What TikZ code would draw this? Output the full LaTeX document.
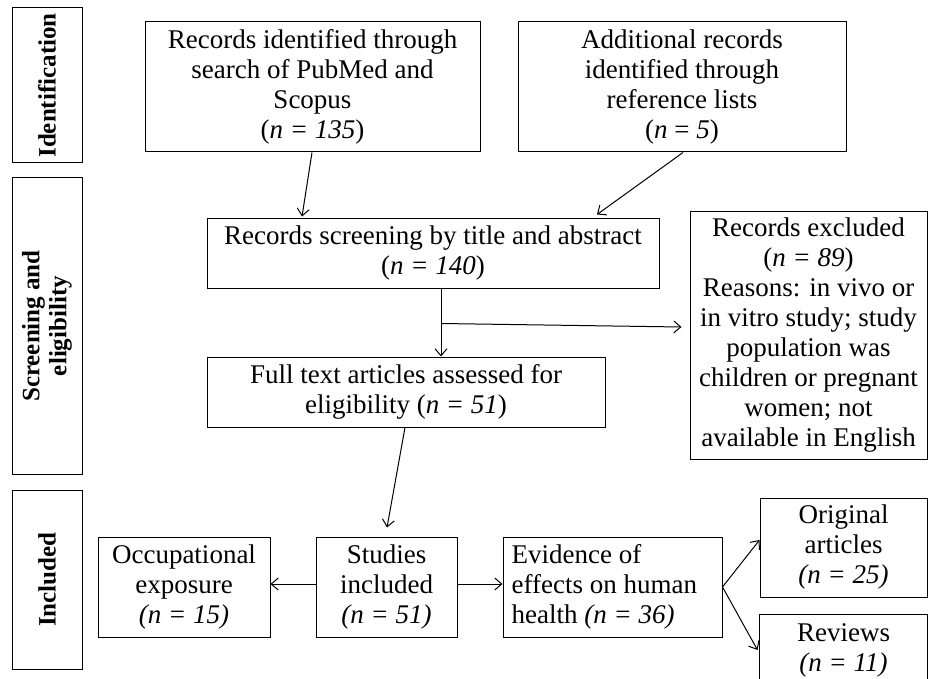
\documentclass[tikz,border=0pt]{standalone}
\usepackage{fontspec}
\setmainfont{Liberation Serif}
\usetikzlibrary{arrows.meta,calc}
\newcommand\myfs{\fontsize{27}{30}\selectfont}
\newcommand\labfs{\fontsize{25}{27}\selectfont}
\begin{document}
\begin{tikzpicture}[x=1pt,y=-1pt,
  box/.style={draw, line width=1pt, align=center, inner sep=0pt, font=\myfs},
  lab/.style={draw, line width=1pt, inner sep=0pt, minimum width=70},
  labtext/.style={rotate=90, align=center, font=\bfseries\labfs},
  arr/.style={line width=1pt, -{Straight Barb[length=7,width=12]}},
  ln/.style={line width=1pt}]
\useasboundingbox (0,0) rectangle (928,679);
\clip (0,0) rectangle (928,679);
% side labels
\node[lab, minimum height=155] (L1) at (47,85.5) {};
\node[labtext] (L1t) at (L1) {Identification};
\node[lab, minimum height=296] (L2) at (47,326) {};
\node[labtext] (L2t) at (L2) {Screening and\\eligibility};
\node[lab, minimum height=179] (L3) at (47,579.5) {};
\node[labtext] (L3t) at (L3) {Included};
% main boxes
\node[box, minimum width=335, minimum height=130] (A) at (312.5,87)
  {Records identified through\\search of PubMed and\\Scopus\\(\textit{n = 135})};
\node[box, minimum width=328, minimum height=130] (B) at (682,87)
  {Additional records\\identified through\\reference lists\\(\textit{n} = \textit{5})};
\node[box, minimum width=452, minimum height=70] (C) at (433,253)
  {Records screening by title and abstract\\(\textit{n = 140})};
\node[box, minimum width=237, minimum height=248] (D) at (808.5,335)
  {Records excluded\\(\textit{n = 89})\\Reasons: in vivo or\\in vitro study; study\\population was\\children or pregnant\\women; not\\available in English};
\node[box, minimum width=398, minimum height=70] (E) at (406,392)
  {Full text articles assessed for\\eligibility (\textit{n = 51})};
\node[box, minimum width=172, minimum height=100] (F) at (184,587)
  {Occupational\\exposure\\\textit{(n = 15)}};
\node[box, minimum width=141, minimum height=100] (G) at (386.5,587)
  {Studies\\included\\\textit{(n = 51)}};
\node[box, minimum width=219, minimum height=100] (H) at (612.5,587) {};
\node[font=\myfs, align=left, inner sep=0pt, anchor=west] (Ht) at ([xshift=9]H.west)
  {Evidence of\\effects on human\\health \textit{(n = 36)}};
\node[box, minimum width=167, minimum height=99] (I) at (843.5,547.5)
  {Original\\articles\\\textit{(n = 25)}};
\node[box, draw=none, minimum width=167, minimum height=70] (J) at (843.5,650)
  {Reviews\\\textit{(n = 11)}};
\draw[ln] (J.south west) -- (J.north west) -- (J.north east) -- (J.south east);
% connectors
\draw[arr] ([xshift=-0.5]A.south) -- ([xshift=-131,yshift=1]C.north);
\draw[arr] ([xshift=1]B.south) -- ([xshift=164,yshift=3]C.north);
\coordinate (br) at ($(C.south)+(8,35)$);
\draw[arr] ([xshift=8]C.south) -- ([xshift=35]E.north);
\draw[arr] (br) -- ([xshift=-8,yshift=8]D.west);
\draw[arr] ([xshift=-1]E.south) -- ([xshift=0.5,yshift=9]G.north);
\draw[arr] ([yshift=3]G.west) -- ([yshift=3]F.east);
\draw[arr] ([yshift=3]G.east) -- ([yshift=3]H.west);
\draw[arr] (H.east) -- ([yshift=7.5]I.west);
\draw[arr] (H.east) -- ([xshift=-2]J.west);
\end{tikzpicture}
\end{document}
